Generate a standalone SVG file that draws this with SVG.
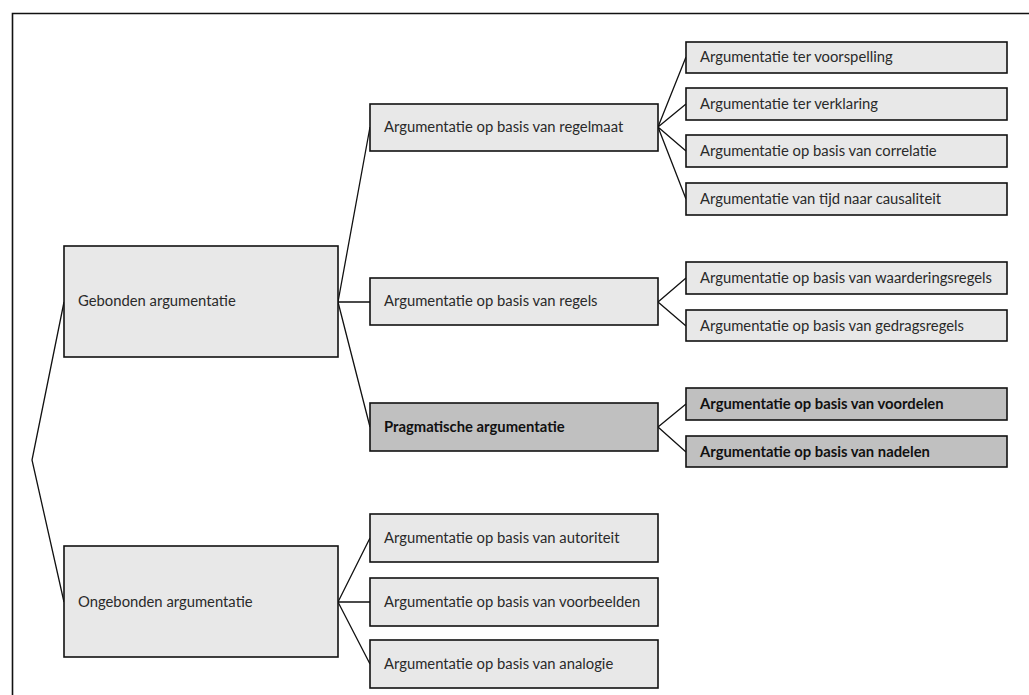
<svg xmlns="http://www.w3.org/2000/svg" width="1029" height="695" viewBox="0 0 1029 695">
<style>
.b{fill:#e8e8e8;stroke:#111;stroke-width:1.6}
.d{fill:#c0c0c0;stroke:#111;stroke-width:1.6}
.t{font-family:Lato,"Liberation Sans",sans-serif;font-size:14.8px;fill:#2a2a2a}
.tb{font-family:Lato,"Liberation Sans",sans-serif;font-size:14.8px;font-weight:bold;fill:#111}
.c{stroke:#111;stroke-width:1.3;fill:none}
</style>
<rect width="1029" height="695" fill="#fff"/>
<path d="M12.5 695V13.5H1029" fill="none" stroke="#111" stroke-width="1.6"/>
<g id="connectors" class="c">
<polyline points="64,302 32,460 64,602"/>
<path d="M338 302L370 127M338 302H370M338 302L370 427"/>
<path d="M658 127L686 57M658 127L686 104M658 127L686 151M658 127L686 199"/>
<path d="M658 302L686 278M658 302L686 326"/>
<path d="M658 427L686 404M658 427L686 452"/>
<path d="M338 602L370 538M338 602H370M338 602L370 664"/>
</g>
<g id="gebonden"><rect class="b" x="64" y="246" width="274" height="111"/><text class="t" x="78" y="306">Gebonden argumentatie</text></g>
<g id="ongebonden"><rect class="b" x="64" y="546" width="274" height="111"/><text class="t" x="78" y="607">Ongebonden argumentatie</text></g>
<g id="regelmaat"><rect class="b" x="370" y="104" width="288" height="47"/><text class="t" x="384" y="132">Argumentatie op basis van regelmaat</text></g>
<g id="regels"><rect class="b" x="370" y="278" width="288" height="47"/><text class="t" x="384" y="306">Argumentatie op basis van regels</text></g>
<g id="pragmatisch"><rect class="d" x="370" y="403" width="288" height="48"/><text class="tb" x="384" y="432">Pragmatische argumentatie</text></g>
<g id="autoriteit"><rect class="b" x="370" y="514" width="288" height="48"/><text class="t" x="384" y="543">Argumentatie op basis van autoriteit</text></g>
<g id="voorbeelden"><rect class="b" x="370" y="578" width="288" height="48"/><text class="t" x="384" y="607">Argumentatie op basis van voorbeelden</text></g>
<g id="analogie"><rect class="b" x="370" y="640" width="288" height="48"/><text class="t" x="384" y="669">Argumentatie op basis van analogie</text></g>
<g id="voorspelling"><rect class="b" x="686" y="42" width="321" height="31"/><text class="t" x="700" y="62">Argumentatie ter voorspelling</text></g>
<g id="verklaring"><rect class="b" x="686" y="88" width="321" height="32"/><text class="t" x="700" y="109">Argumentatie ter verklaring</text></g>
<g id="correlatie"><rect class="b" x="686" y="135" width="321" height="32"/><text class="t" x="700" y="156">Argumentatie op basis van correlatie</text></g>
<g id="causaliteit"><rect class="b" x="686" y="183" width="321" height="32"/><text class="t" x="700" y="204">Argumentatie van tijd naar causaliteit</text></g>
<g id="waarderingsregels"><rect class="b" x="686" y="262" width="321" height="32"/><text class="t" x="700" y="283">Argumentatie op basis van waarderingsregels</text></g>
<g id="gedragsregels"><rect class="b" x="686" y="310" width="321" height="31"/><text class="t" x="700" y="331">Argumentatie op basis van gedragsregels</text></g>
<g id="voordelen"><rect class="d" x="686" y="388" width="321" height="32"/><text class="tb" x="700" y="409">Argumentatie op basis van voordelen</text></g>
<g id="nadelen"><rect class="d" x="686" y="436" width="321" height="31"/><text class="tb" x="700" y="457">Argumentatie op basis van nadelen</text></g>
</svg>
